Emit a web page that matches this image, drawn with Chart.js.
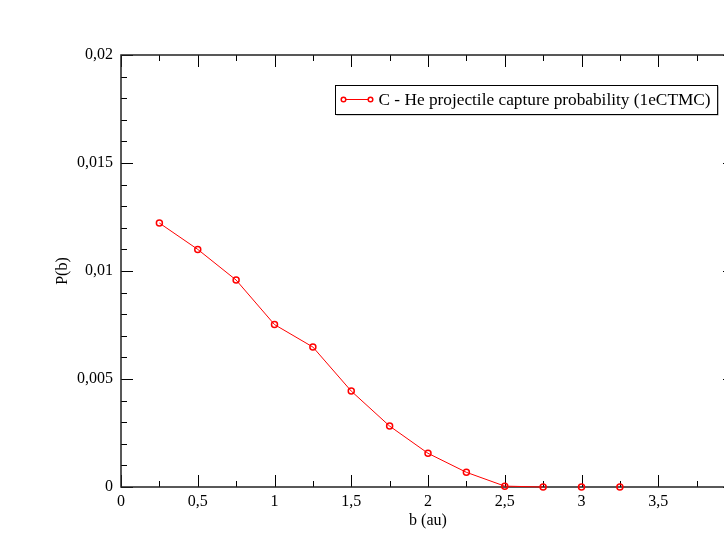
<!DOCTYPE html>
<html>
<head>
<meta charset="utf-8">
<script src="https://cdn.jsdelivr.net/npm/chart.js@4.4.0/dist/chart.umd.min.js"></script>
<style>
  html, body { margin: 0; padding: 0; background: #fff; overflow: hidden; }
  #wrap { width: 760px; height: 545px; }
</style>
</head>
<body>
<div id="wrap"><canvas id="captureChart" width="760" height="545"></canvas></div>
<script>
// impact parameter b (au) and capture probability P(b)
const impactParams = [0.25, 0.5, 0.75, 1.0, 1.25, 1.5, 1.75, 2.0, 2.25, 2.5, 2.75, 3.0, 3.25];
const captureProb = [0.01222, 0.01100, 0.00958, 0.00752, 0.00648, 0.00444, 0.00282, 0.00156, 0.00068, 0.00004, 0, 0, 0];
const seriesLabel = "C - He projectile capture probability (1eCTMC)";

const xTickValues = [0, 0.5, 1, 1.5, 2, 2.5, 3, 3.5, 4];
const yTickValues = [0, 0.005, 0.01, 0.015, 0.02];

const serif = '"Liberation Serif", "DejaVu Serif", serif';

function commaLabel(v) {
  return String(Number(v.toFixed(4))).replace(".", ",");
}

// frame + inward ticks on all four sides, like xmgrace
const frameTicks = {
  id: "frameTicks",
  beforeDatasetsDraw(chart) {
    const { ctx, chartArea: a, scales } = chart;
    const xs = scales.x, ys = scales.y;
    ctx.save();
    ctx.strokeStyle = "#000";
    ctx.lineWidth = 1;
    ctx.beginPath();
    for (let i = 0; i <= 16; i++) {
      const v = i * 0.25;
      const px = Math.round(xs.getPixelForValue(v)) + 0.5;
      const len = i % 2 === 0 ? 12 : 6;
      ctx.moveTo(px, a.bottom); ctx.lineTo(px, a.bottom - len);
      ctx.moveTo(px, a.top); ctx.lineTo(px, a.top + len);
    }
    for (let i = 0; i <= 20; i++) {
      const v = i * 0.001;
      const py = Math.round(ys.getPixelForValue(v)) + 0.5;
      const len = i % 5 === 0 ? 12 : 6;
      ctx.moveTo(a.left, py); ctx.lineTo(a.left + len, py);
      ctx.moveTo(a.right, py); ctx.lineTo(a.right - len, py);
    }
    ctx.stroke();
    ctx.strokeStyle = "#222";
    ctx.lineWidth = 1.5;
    ctx.strokeRect(a.left, a.top, a.right - a.left, a.bottom - a.top);
    ctx.restore();
  }
};

const legendBox = {
  id: "legendBox",
  afterDraw(chart) {
    const ctx = chart.ctx;
    const ds = chart.data.datasets[0];
    ctx.save();
    ctx.font = "17.3px " + serif;
    const tw = ctx.measureText(ds.label).width;
    const x = 335.5, y = 85.5, h = 29;
    const w = tw + 50;
    ctx.fillStyle = "#aaa";
    ctx.fillRect(x + 1, y + 1, w, h);
    ctx.fillStyle = "#fff";
    ctx.fillRect(x, y, w, h);
    ctx.strokeStyle = "#000";
    ctx.lineWidth = 1;
    ctx.strokeRect(x, y, w, h);

    const sy = y + 14;
    ctx.strokeStyle = "#ff0000";
    ctx.beginPath();
    ctx.moveTo(x + 8, sy); ctx.lineTo(x + 35, sy);
    ctx.stroke();
    ctx.lineWidth = 1.5;
    [x + 8, x + 35].forEach((cx) => {
      ctx.beginPath();
      ctx.arc(cx, sy, 2.3, 0, Math.PI * 2);
      ctx.fillStyle = "#fff";
      ctx.fill();
      ctx.stroke();
    });
    ctx.fillStyle = "#000";
    ctx.textBaseline = "middle";
    ctx.fillText(ds.label, x + 43, sy + 1);
    ctx.restore();
  }
};

const ctx = document.getElementById("captureChart").getContext("2d");
new Chart(ctx, {
  type: "line",
  data: {
    datasets: [
      {
        label: seriesLabel,
        data: impactParams.map((b, i) => ({ x: b, y: captureProb[i] })),
        borderColor: "#ff0000",
        borderWidth: 1,
        pointStyle: "circle",
        pointRadius: 3,
        pointBorderWidth: 1.5,
        pointBackgroundColor: "rgba(255,255,255,0)",
        pointBorderColor: "#ff0000",
        tension: 0,
        clip: false,
        segment: {
          borderColor: (c) => (c.p0.parsed.y === 0 && c.p1.parsed.y === 0 ? "rgba(0,0,0,0)" : undefined)
        }
      }
    ]
  },
  options: {
    responsive: false,
    animation: false,
    layout: { padding: { top: 55, right: 25, left: 0, bottom: 0 } },
    plugins: { legend: { display: false }, tooltip: { enabled: false } },
    scales: {
      x: {
        type: "linear",
        min: 0,
        max: 4,
        afterFit: (s) => { s.height = 58; },
        afterBuildTicks: (s) => { s.ticks = xTickValues.map((v) => ({ value: v })); },
        grid: { display: false, drawTicks: false },
        border: { display: false },
        ticks: {
          color: "#000",
          padding: 5,
          maxRotation: 0,
          font: { family: serif, size: 16 },
          callback: (v) => commaLabel(v)
        },
        title: {
          display: true,
          text: "b (au)",
          color: "#000",
          font: { family: serif, size: 16 },
          padding: { top: 0, bottom: 15 }
        }
      },
      y: {
        type: "linear",
        min: 0,
        max: 0.02,
        afterFit: (s) => { s.width = 121; },
        afterBuildTicks: (s) => { s.ticks = yTickValues.map((v) => ({ value: v })); },
        grid: { display: false, drawTicks: false },
        border: { display: false },
        ticks: {
          color: "#000",
          padding: 8,
          font: { family: serif, size: 16 },
          callback: (v) => commaLabel(v)
        },
        title: {
          display: true,
          text: "P(b)",
          color: "#000",
          font: { family: serif, size: 16 },
          padding: { top: 53, bottom: 0 }
        }
      }
    }
  },
  plugins: [frameTicks, legendBox]
});
</script>
</body>
</html>
